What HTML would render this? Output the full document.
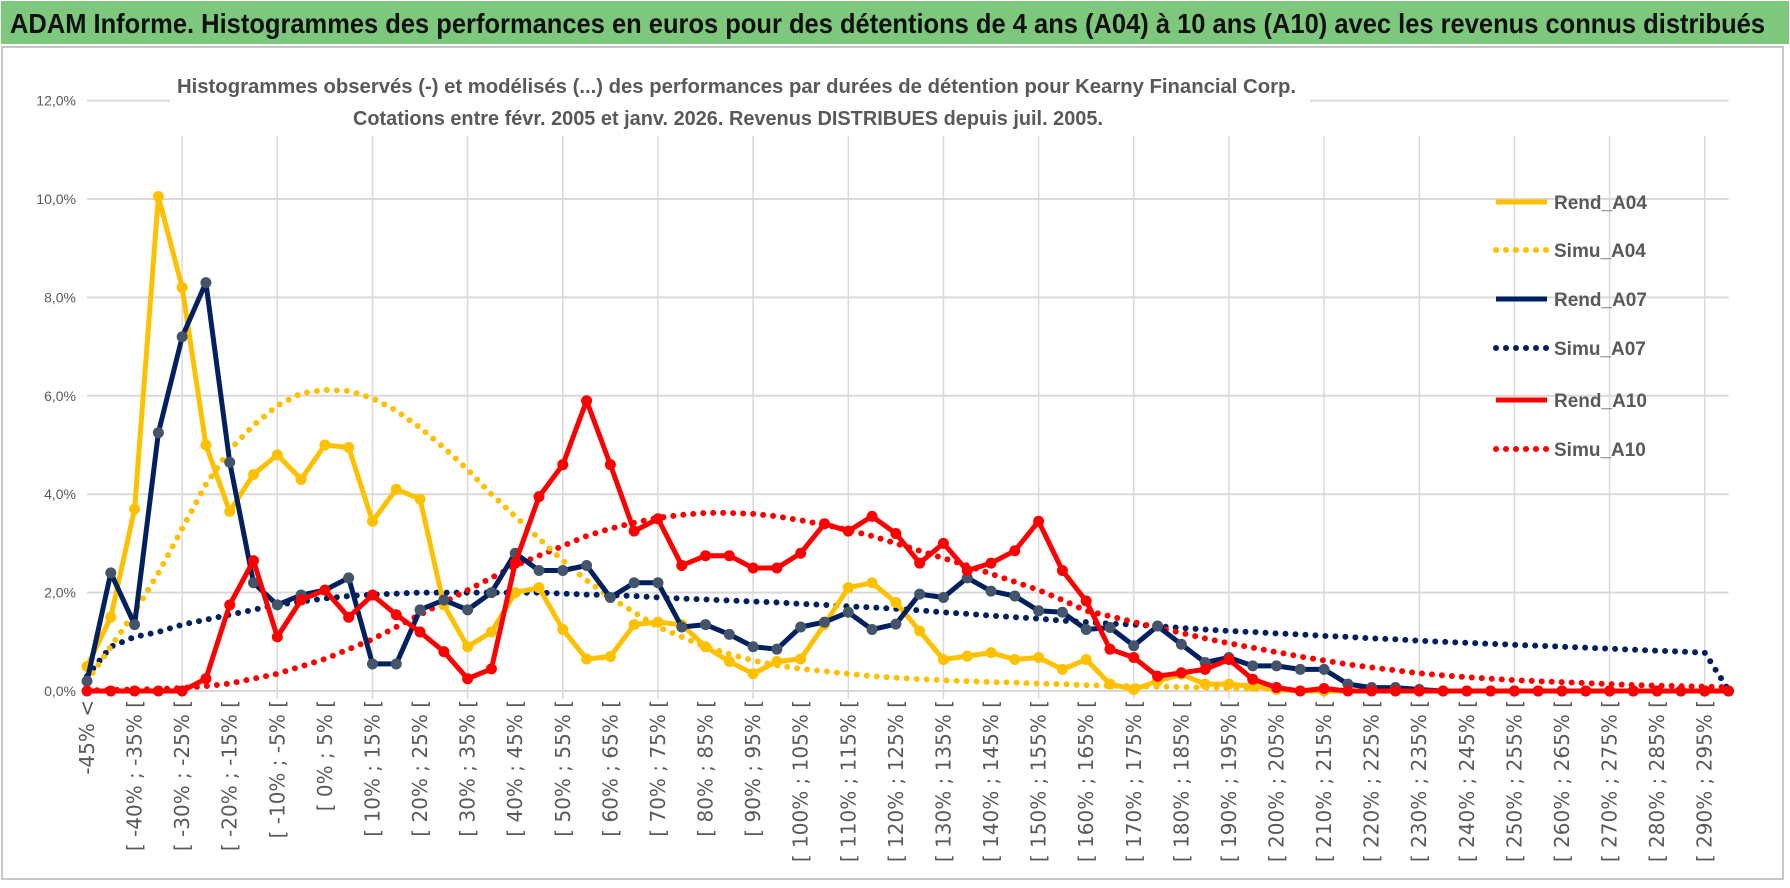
<!DOCTYPE html>
<html><head><meta charset="utf-8"><style>
html,body{margin:0;padding:0;background:#fff;}
svg{display:block;font-family:"Liberation Sans",sans-serif;}
</style></head><body>
<svg id="chart" width="1790" height="888" viewBox="0 0 1790 888">
<rect x="0" y="0" width="1790" height="888" fill="#fff"/>
<rect x="1" y="1" width="1788" height="43" fill="#7DC87D"/>
<text x="10" y="33" font-size="28" font-weight="bold" fill="#111" textLength="1755" lengthAdjust="spacingAndGlyphs">ADAM Informe. Histogrammes des performances en euros pour des détentions de 4 ans (A04) à 10 ans (A10) avec les revenus connus distribués</text>
<rect x="2" y="47" width="1781" height="832" fill="none" stroke="#c8c8c8" stroke-width="2"/>
<g id="grid"></g>
<g id="ylabels"></g>
<g id="xlabels"></g>
<rect x="170" y="62" width="1140" height="72" fill="#fff"/>
<text x="177" y="93" font-size="20" font-weight="bold" fill="#595959" textLength="1119" lengthAdjust="spacingAndGlyphs">Histogrammes observés (-) et modélisés (...) des performances par durées de détention pour Kearny Financial Corp.</text>
<text x="353" y="125" font-size="20" font-weight="bold" fill="#595959" textLength="750" lengthAdjust="spacingAndGlyphs">Cotations entre févr. 2005 et janv. 2026. Revenus DISTRIBUES depuis juil. 2005.</text>
<g id="series"></g>
<g id="legend"></g>
</svg>
<script>
const categories = (function(){const a=["-45% <"];for(let v=-45;v<300;v+=5)a.push("[ "+v+"% ; "+(v+5)+"% [");return a;})();
const yTicks = [0,2,4,6,8,10,12];
const yTickLabels = ["0,0%","2,0%","4,0%","6,0%","8,0%","10,0%","12,0%"];
const rendA04 = [0.5,1.5,3.7,10.05,8.2,5.0,3.65,4.4,4.8,4.3,5.0,4.95,3.45,4.1,3.9,1.75,0.9,1.2,2.0,2.1,1.25,0.65,0.7,1.35,1.4,1.35,0.9,0.6,0.35,0.6,0.65,1.35,2.1,2.2,1.8,1.22,0.64,0.71,0.78,0.64,0.68,0.44,0.64,0.14,0.03,0.2,0.34,0.14,0.14,0.1,0.03,0,0,0,0,0,0,0,0,0,0,0,0,0,0,0,0,0,0,0];
const simuA04 = [0.2,0.9,1.6,2.4,3.3,4.2,4.9,5.4,5.8,6.05,6.12,6.1,5.95,5.7,5.35,4.95,4.5,4.0,3.55,3.1,2.65,2.25,1.9,1.6,1.3,1.1,0.9,0.75,0.62,0.52,0.45,0.4,0.35,0.3,0.27,0.24,0.22,0.2,0.18,0.17,0.15,0.14,0.12,0.11,0.1,0.09,0.08,0.07,0.06,0.05,0.04,null,null,null,null,null,null,null,null,null,null,null,null,null,null,null,null,null,null,null];
const rendA07 = [0.2,2.4,1.35,5.25,7.2,8.3,4.65,2.2,1.75,1.95,2.05,2.3,0.55,0.55,1.65,1.85,1.65,2.0,2.8,2.45,2.45,2.55,1.9,2.2,2.2,1.3,1.35,1.15,0.9,0.85,1.3,1.4,1.6,1.25,1.36,1.97,1.9,2.3,2.03,1.93,1.63,1.6,1.25,1.29,0.92,1.32,0.95,0.58,0.68,0.51,0.51,0.44,0.44,0.14,0.07,0.07,0.03,0,0,0,0,0,0,0,0,0,0,0,0,0];
const simuA07 = [0.3,0.9,1.1,1.2,1.35,1.45,1.55,1.65,1.75,1.82,1.88,1.93,1.96,1.98,2.0,2.0,2.0,2.0,2.0,2.0,1.98,1.96,1.95,1.93,1.9,1.88,1.86,1.84,1.82,1.8,1.77,1.75,1.72,1.7,1.67,1.64,1.6,1.57,1.53,1.5,1.47,1.43,1.4,1.37,1.35,1.32,1.28,1.25,1.22,1.2,1.17,1.15,1.12,1.1,1.07,1.05,1.02,1.0,0.98,0.96,0.94,0.92,0.9,0.88,0.86,0.84,0.82,0.8,0.78,0.02];
const rendA10 = [0,0,0,0,0,0.25,1.75,2.65,1.1,1.85,2.05,1.5,1.95,1.55,1.2,0.8,0.25,0.45,2.6,3.95,4.6,5.9,4.6,3.25,3.5,2.55,2.75,2.75,2.5,2.5,2.8,3.4,3.25,3.55,3.2,2.6,3.0,2.45,2.6,2.85,3.45,2.45,1.83,0.85,0.68,0.3,0.37,0.44,0.64,0.24,0.07,0,0.05,0,0,0,0,0,0,0,0,0,0,0,0,0,0,0,0,0];
const simuA10 = [0.01,0.02,0.03,0.04,0.06,0.1,0.15,0.25,0.35,0.5,0.65,0.85,1.05,1.3,1.55,1.8,2.05,2.3,2.55,2.75,2.95,3.15,3.3,3.42,3.52,3.58,3.62,3.62,3.6,3.55,3.47,3.38,3.27,3.15,3.0,2.85,2.7,2.55,2.38,2.22,2.05,1.85,1.63,1.52,1.4,1.29,1.18,1.07,0.97,0.88,0.79,0.7,0.62,0.54,0.48,0.42,0.36,0.32,0.28,0.25,0.22,0.2,0.18,0.16,0.14,0.12,0.11,0.1,0.09,0.08];
const seriesNames = ["Rend_A04","Simu_A04","Rend_A07","Simu_A07","Rend_A10","Simu_A10"];

const NS="http://www.w3.org/2000/svg";
const X0=87, DX=23.79, Y0=691, PY=49.2;
const xS=i=>X0+i*DX;
const yS=v=>Y0-v*PY;
function mk(tag,attrs,parent){const e=document.createElementNS(NS,tag);for(const k in attrs)e.setAttribute(k,attrs[k]);parent.appendChild(e);return e;}

const grid=document.getElementById('grid');
yTicks.forEach((t,k)=>{
  const l=mk('line',{x1:X0,x2:xS(categories.length-1),y1:yS(t),y2:yS(t),stroke:'#d9d9d9','stroke-width':2},grid);
  
  
  const tx=mk('text',{x:76,y:yS(t)+5,'text-anchor':'end','font-size':14,fill:'#595959'},document.getElementById('ylabels'));
  tx.textContent=yTickLabels[k];
  
  
});
for(let i=4;i<categories.length;i+=4){
  const l=mk('line',{x1:xS(i),x2:xS(i),y1:136,y2:Y0+8,stroke:'#d9d9d9','stroke-width':1.5},grid);
  
  
}
const xl=document.getElementById('xlabels');
categories.forEach((c,i)=>{
  if(i%2!==0)return;
  const tx=mk('text',{x:0,y:0,'text-anchor':'end','font-size':20,fill:'#595959','font-family':'"DejaVu Sans",sans-serif',transform:'translate('+(xS(i)+7)+',700) rotate(-90)'},xl);
  tx.textContent=c;
  
  
});

const sg=document.getElementById('series');
function pathOf(arr){let d='',pen=false;arr.forEach((v,i)=>{if(v===null){pen=false;return;}d+=(pen?'L':'M')+xS(i).toFixed(1)+' '+yS(v).toFixed(1)+' ';pen=true;});return d;}
function dotted(arr,color,name){
  const p=mk('path',{d:pathOf(arr),fill:'none',stroke:color,'stroke-width':6,'stroke-linecap':'round','stroke-dasharray':'0 10'},sg);
  
  
}
function solid(arr,color,mcolor,name){
  const g=mk('g',{},sg);
  
  
  mk('path',{d:pathOf(arr),fill:'none',stroke:color,'stroke-width':5,'stroke-linejoin':'round'},g);
  arr.forEach((v,i)=>{if(v===null)return;
    const c=mk('circle',{cx:xS(i),cy:yS(v),r:5.5,fill:mcolor},g);
    
    
  });
}
dotted(simuA07,'#002060','simu-a07-line');
dotted(simuA10,'#FF0000','simu-a10-line');
dotted(simuA04,'#FFC000','simu-a04-line');
solid(rendA04,'#FFC000','#FFC000','rend-a04-line');
solid(rendA07,'#002060','#44546A','rend-a07-line');
solid(rendA10,'#FF0000','#FF0000','rend-a10-line');

const lg=document.getElementById('legend');
const lys=[202,250,299,348,400,449];
const lcols=['#FFC000','#FFC000','#002060','#002060','#FF0000','#FF0000'];
seriesNames.forEach((n,k)=>{
  const g=mk('g',{},lg);
  
  
  const dot=n.startsWith('Simu');
  mk('line',{x1:1496,x2:1547,y1:lys[k],y2:lys[k],stroke:lcols[k],'stroke-width':dot?6:5,'stroke-linecap':dot?'round':'butt','stroke-dasharray':dot?'0 10':'none'},g);
  const t=mk('text',{x:1554,y:lys[k]+7,'font-size':19,'font-weight':'bold',fill:'#595959'},g);
  t.textContent=n;
});
</script>
</body></html>
